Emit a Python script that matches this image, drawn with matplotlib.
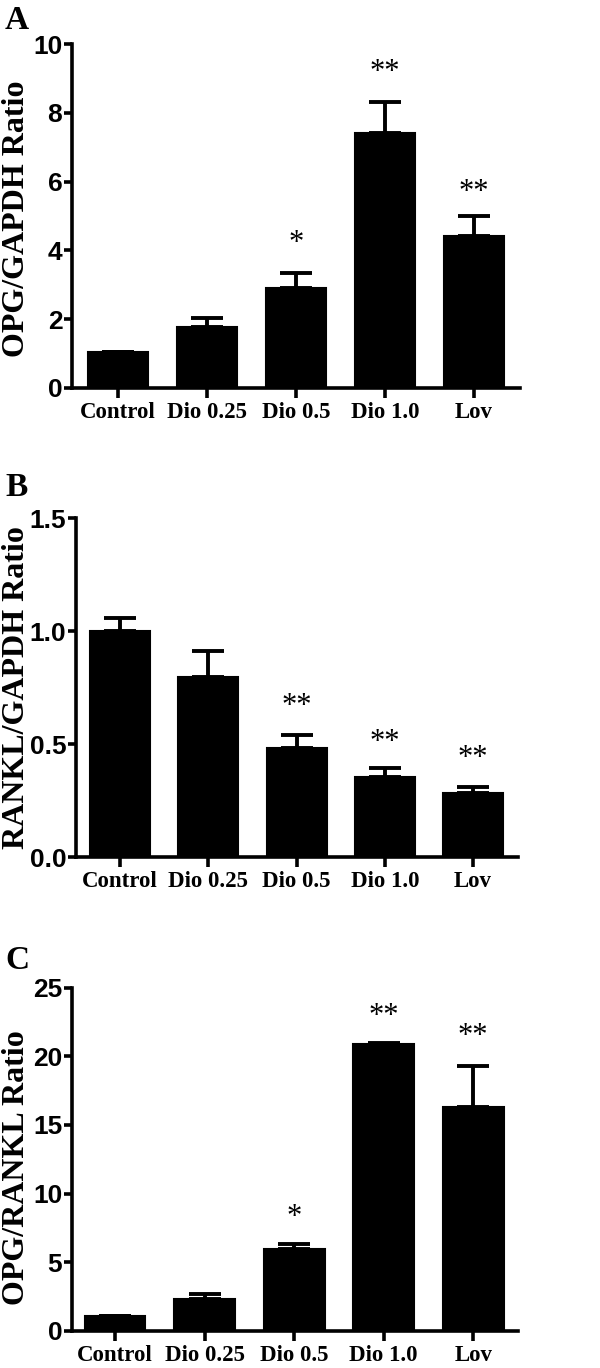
import matplotlib
matplotlib.use("Agg")
import matplotlib.pyplot as plt
from matplotlib import font_manager

categories = ["Control", "Dio 0.25", "Dio 0.5", "Dio 1.0", "Lov"]

opg_gapdh = [1.03, 1.78, 2.90, 7.42, 4.43]
opg_gapdh_err = [0.0, 0.25, 0.43, 0.90, 0.57]
opg_gapdh_sig = ["", "", "*", "**", "**"]

rankl_gapdh = [1.00, 0.80, 0.485, 0.355, 0.283]
rankl_gapdh_err = [0.057, 0.112, 0.055, 0.040, 0.030]
rankl_gapdh_sig = ["", "", "**", "**", "**"]

opg_rankl = [1.05, 2.30, 5.98, 20.87, 16.28]
opg_rankl_err = [0.0, 0.35, 0.37, 0.12, 3.03]
opg_rankl_sig = ["", "", "*", "**", "**"]

avail = {f.name for f in font_manager.fontManager.ttflist}
tick_font = "Liberation Sans Narrow" if "Liberation Sans Narrow" in avail else "Liberation Sans"
serif_font = "Liberation Serif"

fig = plt.figure(figsize=(6, 13.68), dpi=100)

panels = [
    dict(vals=opg_gapdh, err=opg_gapdh_err, sig=opg_gapdh_sig, ylim=(0, 10), yticks=[0, 2, 4, 6, 8, 10],
         fmt="{:g}", ylabel="OPG/GAPDH Ratio", letter="A",
         rect=[72/600, 1-387.7/1368, 448/600, 343.4/1368], xlim=(-0.52, 4.52),
         star_y=[0, 0, 4.21, 9.19, 5.69], label_xy=(-0.092, 0.491), letter_y=5),
    dict(vals=rankl_gapdh, err=rankl_gapdh_err, sig=rankl_gapdh_sig, ylim=(0, 1.5), yticks=[0, 0.5, 1.0, 1.5],
         fmt="{:.1f}", ylabel="RANKL/GAPDH Ratio", letter="B",
         rect=[76/600, 1-857.3/1368, 442/600, 339/1368], xlim=(-0.50, 4.51),
         star_y=[0, 0, 0.667, 0.507, 0.438], label_xy=(-0.102, 0.501), letter_y=472),
    dict(vals=opg_rankl, err=opg_rankl_err, sig=opg_rankl_sig, ylim=(0, 25), yticks=[0, 5, 10, 15, 20, 25],
         fmt="{:g}", ylabel="OPG/RANKL Ratio", letter="C",
         rect=[72/600, 1-1330.7/1368, 446/600, 343/1368], xlim=(-0.48, 4.50),
         star_y=[0, 0, 8.22, 22.89, 21.43], label_xy=(-0.092, 0.474), letter_y=945),
]

x = list(range(len(categories)))
for p in panels:
    ax = fig.add_axes(p["rect"])
    ax.bar(x, p["vals"], width=0.68, color="black", edgecolor="black", linewidth=1.5, zorder=2)
    ax.errorbar(x, p["vals"], yerr=[[0]*5, p["err"]], fmt="none", ecolor="black",
                elinewidth=2.8, capsize=11.5, capthick=2.8, zorder=1)
    for xi, s, sy in zip(x, p["sig"], p["star_y"]):
        if s:
            ax.text(xi, sy, s, ha="center", va="center", fontsize=22,
                    family=serif_font, color="black")
    ax.set_xlim(*p["xlim"])
    ax.set_ylim(*p["ylim"])
    ax.set_yticks(p["yticks"])
    ax.set_yticklabels([p["fmt"].format(v) for v in p["yticks"]], family=tick_font,
                       fontweight="bold", fontsize=19)
    ax.set_xticks(x)
    ax.set_xticklabels(categories, family=serif_font, fontweight="bold", fontsize=16.5)
    ax.spines["top"].set_visible(False)
    ax.spines["right"].set_visible(False)
    for sp in ("left", "bottom"):
        ax.spines[sp].set_linewidth(2.6)
    ax.tick_params(axis="y", length=6, width=2.6, pad=1)
    ax.tick_params(axis="x", length=7, width=2.6, pad=3)
    ax.set_ylabel(p["ylabel"], family=serif_font, fontweight="bold", fontsize=23)
    ax.yaxis.set_label_coords(*p["label_xy"])
    fig.text(5/600, 1 - p["letter_y"]/1368, p["letter"], ha="left", va="top",
             family=serif_font, fontweight="bold", fontsize=24)

fig.savefig("out.png", dpi=100, facecolor="white")
